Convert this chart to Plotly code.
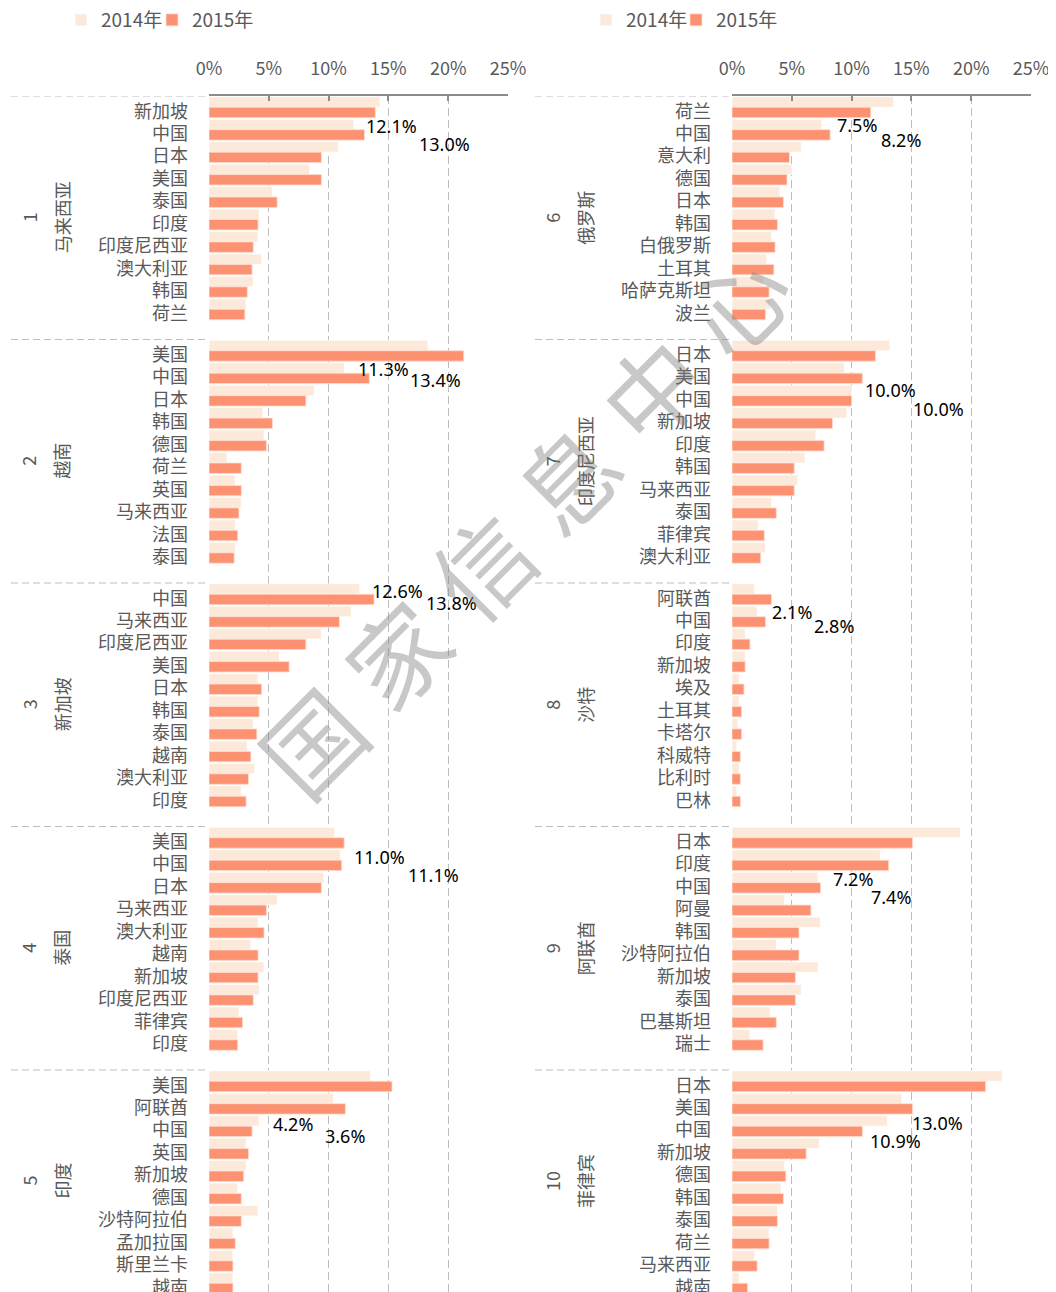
import plotly.graph_objects as go

# ---------------- data ----------------
left_groups = ["马来西亚", "越南", "新加坡", "泰国", "印度"]
right_groups = ["俄罗斯", "印度尼西亚", "沙特", "阿联酋", "菲律宾"]
years = ["2014年", "2015年"]
x_ticks = [0, 5, 10, 15, 20, 25]
x_tick_text = ["0%", "5%", "10%", "15%", "20%", "25%"]

# 1 马来西亚
cat_malaysia = ["新加坡", "中国", "日本", "美国", "泰国", "印度", "印度尼西亚", "澳大利亚", "韩国", "荷兰"]
v14_malaysia = [14.3, 12.1, 10.8, 8.4, 5.3, 4.2, 4.1, 4.4, 3.7, 3.1]
v15_malaysia = [13.9, 13.0, 9.4, 9.4, 5.7, 4.1, 3.7, 3.6, 3.2, 3.0]
# 2 越南
cat_vietnam = ["美国", "中国", "日本", "韩国", "德国", "荷兰", "英国", "马来西亚", "法国", "泰国"]
v14_vietnam = [18.3, 11.3, 8.8, 4.5, 4.6, 1.5, 2.2, 2.7, 2.2, 2.2]
v15_vietnam = [21.3, 13.4, 8.1, 5.3, 4.8, 2.7, 2.7, 2.5, 2.4, 2.1]
# 3 新加坡
cat_singapore = ["中国", "马来西亚", "印度尼西亚", "美国", "日本", "韩国", "泰国", "越南", "澳大利亚", "印度"]
v14_singapore = [12.6, 11.9, 9.4, 5.9, 4.1, 4.1, 3.7, 3.2, 3.8, 2.7]
v15_singapore = [13.8, 10.9, 8.1, 6.7, 4.4, 4.2, 4.0, 3.5, 3.3, 3.1]
# 4 泰国
cat_thailand = ["美国", "中国", "日本", "马来西亚", "澳大利亚", "越南", "新加坡", "印度尼西亚", "菲律宾", "印度"]
v14_thailand = [10.5, 11.0, 9.6, 5.7, 4.1, 3.5, 4.6, 4.2, 2.5, 2.4]
v15_thailand = [11.3, 11.1, 9.4, 4.8, 4.6, 4.1, 4.1, 3.7, 2.8, 2.4]
# 5 印度
cat_india = ["美国", "阿联酋", "中国", "英国", "新加坡", "德国", "沙特阿拉伯", "孟加拉国", "斯里兰卡", "越南"]
v14_india = [13.5, 10.4, 4.2, 3.1, 3.1, 2.4, 4.1, 2.0, 2.0, 2.0]
v15_india = [15.3, 11.4, 3.6, 3.3, 2.9, 2.7, 2.7, 2.2, 2.0, 2.0]
# 6 俄罗斯
cat_russia = ["荷兰", "中国", "意大利", "德国", "日本", "韩国", "白俄罗斯", "土耳其", "哈萨克斯坦", "波兰"]
v14_russia = [13.5, 7.5, 5.8, 5.0, 4.0, 3.6, 3.3, 2.9, 2.6, 3.2]
v15_russia = [11.6, 8.2, 4.8, 4.6, 4.3, 3.8, 3.6, 3.5, 3.1, 2.8]
# 7 印度尼西亚
cat_indonesia = ["日本", "美国", "中国", "新加坡", "印度", "韩国", "马来西亚", "泰国", "菲律宾", "澳大利亚"]
v14_indonesia = [13.2, 9.4, 10.0, 9.6, 7.0, 6.1, 5.5, 3.3, 2.2, 2.8]
v15_indonesia = [12.0, 10.9, 10.0, 8.4, 7.7, 5.2, 5.2, 3.7, 2.7, 2.4]
# 8 沙特
cat_saudi = ["阿联酋", "中国", "印度", "新加坡", "埃及", "土耳其", "卡塔尔", "科威特", "比利时", "巴林"]
v14_saudi = [1.9, 2.1, 1.1, 1.1, 0.6, 0.6, 0.5, 0.4, 0.6, 0.4]
v15_saudi = [3.3, 2.8, 1.5, 1.1, 1.0, 0.8, 0.8, 0.7, 0.7, 0.7]
# 9 阿联酋
cat_uae = ["日本", "印度", "中国", "阿曼", "韩国", "沙特阿拉伯", "新加坡", "泰国", "巴基斯坦", "瑞士"]
v14_uae = [19.1, 12.4, 7.2, 4.4, 7.4, 3.7, 7.2, 5.8, 3.2, 1.5]
v15_uae = [15.1, 13.1, 7.4, 6.6, 5.6, 5.6, 5.3, 5.3, 3.7, 2.6]
# 10 菲律宾
cat_philippines = ["日本", "美国", "中国", "新加坡", "德国", "韩国", "泰国", "荷兰", "马来西亚", "越南"]
v14_philippines = [22.6, 14.2, 13.0, 7.3, 4.4, 4.1, 3.8, 3.1, 1.9, 0.6]
v15_philippines = [21.2, 15.1, 10.9, 6.2, 4.5, 4.3, 3.8, 3.1, 2.1, 1.3]

left_cats = [cat_malaysia, cat_vietnam, cat_singapore, cat_thailand, cat_india]
left_v14 = [v14_malaysia, v14_vietnam, v14_singapore, v14_thailand, v14_india]
left_v15 = [v15_malaysia, v15_vietnam, v15_singapore, v15_thailand, v15_india]
right_cats = [cat_russia, cat_indonesia, cat_saudi, cat_uae, cat_philippines]
right_v14 = [v14_russia, v14_indonesia, v14_saudi, v14_uae, v14_philippines]
right_v15 = [v15_russia, v15_indonesia, v15_saudi, v15_uae, v15_philippines]

# ---------------- layout constants ----------------
W, H = 1056, 1292
OFFX, OFFY = 8, 8            # page offset of the figure inside the browser window (body margin)
FONT = "Noto Sans CJK SC"
GREY = "#595959"
C14 = "#FDE9DA"
C15 = "#FC9272"
GRID = "#BDBDBD"
TOP_PX = 96                  # page px of plot top
SLOT_PX = 22.45              # one category row
GROUP_STRIDE = 243.5 / SLOT_PX   # rows per group incl. the spacer
y_top = -0.5
y_bottom = y_top + (H - (TOP_PX - OFFY)) / SLOT_PX
y_visible_bottom = y_top + (1292 - TOP_PX) / SLOT_PX


def fx(px):
    return (px - OFFX) / W


def fy(py):
    return 1 - (py - OFFY) / H


# label placement of China's values (x in %, y offset from China's row)
left_lbl = [(15.3, -0.18, 19.7, 0.62), (14.55, -0.19, 18.95, 0.30), (15.8, -0.14, 20.3, 0.37),
            (14.26, -0.14, 18.8, 0.64), (7.0, -0.10, 11.33, 0.42)]
right_lbl = [(10.44, -0.23, 14.1, 0.46), (13.28, -0.23, 17.3, 0.60), (5.0, -0.21, 8.49, 0.42),
             (10.1, -0.18, 13.33, 0.63), (17.17, -0.15, 13.68, 0.66)]

fig_domains = {"x": [fx(209), fx(508)], "x2": [fx(732), fx(1031)]}

fig = go.Figure()
annotations = []
shapes = []


def add_panel(cats, v14, v15, groups, start_no, xa, ya, legends, lbls, num_px, name_px, div_x0):
    pos, names, a14, a15 = [], [], [], []
    for g, (cs, p, q) in enumerate(zip(cats, v14, v15)):
        for i, c in enumerate(cs):
            pos.append(g * GROUP_STRIDE + i)
            names.append(c)
            a14.append(p[i])
            a15.append(q[i])
    fig.add_trace(go.Bar(y=pos, x=a14, orientation="h", name=years[0], xaxis=xa, yaxis=ya,
                         marker=dict(color=C14, line=dict(color="rgba(255,255,255,0.7)", width=1)),
                         legend=legends[0], showlegend=True))
    fig.add_trace(go.Bar(y=pos, x=a15, orientation="h", name=years[1], xaxis=xa, yaxis=ya,
                         marker=dict(color=C15, line=dict(color="rgba(255,220,205,0.8)", width=1)),
                         legend=legends[1], showlegend=True))
    ax_x = fig_domains[xa][0]
    for g, gname in enumerate(groups):
        y0 = g * GROUP_STRIDE - 0.5
        shapes.append(dict(type="line", xref="paper", yref=ya, x0=fx(div_x0), x1=ax_x,
                           y0=y0, y1=y0, line=dict(color=GRID, width=1.2, dash="7px,4px")))
        yc = min(y0 + GROUP_STRIDE / 2, (y0 + y_visible_bottom) / 2)
        annotations.append(dict(text=str(start_no + g), x=fx(num_px), xref="paper", y=yc, yref=ya,
                                textangle=-90, showarrow=False, font=dict(size=18, color=GREY, family=FONT),
                                xanchor="center", yanchor="middle"))
        annotations.append(dict(text=gname, x=fx(name_px), xref="paper", y=yc, yref=ya,
                                textangle=-90, showarrow=False, font=dict(size=18, color=GREY, family=FONT),
                                xanchor="center", yanchor="middle"))
        ci = cats[g].index("中国")
        lx14, dy14, lx15, dy15 = lbls[g]
        base = g * GROUP_STRIDE + ci
        annotations.append(dict(text=f"{v14[g][ci]:.1f}%", x=lx14, xref=xa, y=base + dy14, yref=ya,
                                showarrow=False, font=dict(size=18, color="#000000", family="Noto Sans")))
        annotations.append(dict(text=f"{v15[g][ci]:.1f}%", x=lx15, xref=xa, y=base + dy15, yref=ya,
                                showarrow=False, font=dict(size=18, color="#000000", family="Noto Sans")))
    return pos, names


lpos, lnames = add_panel(left_cats, left_v14, left_v15, left_groups, 1, "x", "y", ("legend", "legend2"),
                         left_lbl, 28.5, 61.5, 11)
rpos, rnames = add_panel(right_cats, right_v14, right_v15, right_groups, 6, "x2", "y2", ("legend3", "legend4"),
                         right_lbl, 552, 585, 535)

# watermark
wm_chars = list("国家信息中心")
wm_start = (310, 740)
wm_step = (85, -88)
for k, ch in enumerate(wm_chars):
    px = wm_start[0] + k * wm_step[0]
    py = wm_start[1] + k * wm_step[1]
    annotations.append(dict(text=ch, x=fx(px), y=fy(py), xref="paper", yref="paper",
                            showarrow=False, textangle=-45, xanchor="center", yanchor="middle",
                            font=dict(size=98, color="rgba(128,128,128,0.43)", family=FONT)))

ydom = [0, fy(TOP_PX)]


def xaxis_cfg(domain, anchor):
    return dict(domain=domain, range=[0, 25], side="top", anchor=anchor, tickmode="array",
                tickvals=x_ticks, ticktext=x_tick_text, automargin=False,
                showgrid=True, gridcolor=GRID, griddash="8px,4px", gridwidth=1.2,
                zeroline=False, showline=True, linecolor="#8C8C8C", linewidth=1.5,
                ticks="inside", ticklen=5, tickcolor="#8C8C8C", tickwidth=1.5,
                tickfont=dict(size=18, color=GREY, family=FONT), ticklabelstandoff=12, fixedrange=True)


def yaxis_cfg(anchor, pos, names):
    return dict(domain=ydom, range=[y_bottom, y_top], anchor=anchor, tickmode="array", tickvals=pos,
                ticktext=names, showgrid=False, zeroline=False, showline=False, ticks="", automargin=False,
                ticklabelstandoff=20, ticklabelshift=-4,
                tickfont=dict(size=18, color=GREY, family=FONT), fixedrange=True)


def legend_cfg(text_px):
    # legend text starts ~40 px right of the legend box's left edge
    return dict(orientation="h", yanchor="middle", y=fy(20), xanchor="left", x=fx(text_px - 40),
                itemwidth=30, font=dict(size=19, color=GREY, family=FONT),
                bgcolor="rgba(0,0,0,0)", itemclick=False, borderwidth=0)


fig.update_layout(
    width=W, height=H, margin=dict(l=0, r=0, t=0, b=0, pad=0, autoexpand=False),
    paper_bgcolor="white", plot_bgcolor="white", showlegend=True,
    barmode="group", bargap=0.07, bargroupgap=0.0,
    xaxis=xaxis_cfg(fig_domains["x"], "y"),
    xaxis2=xaxis_cfg(fig_domains["x2"], "y2"),
    yaxis=yaxis_cfg("x", lpos, lnames),
    yaxis2=yaxis_cfg("x2", rpos, rnames),
    legend=legend_cfg(101),
    legend2=legend_cfg(192),
    legend3=legend_cfg(626),
    legend4=legend_cfg(716),
    annotations=annotations, shapes=shapes,
    font=dict(family=FONT, color=GREY),
)

fig.write_html("out.html")
